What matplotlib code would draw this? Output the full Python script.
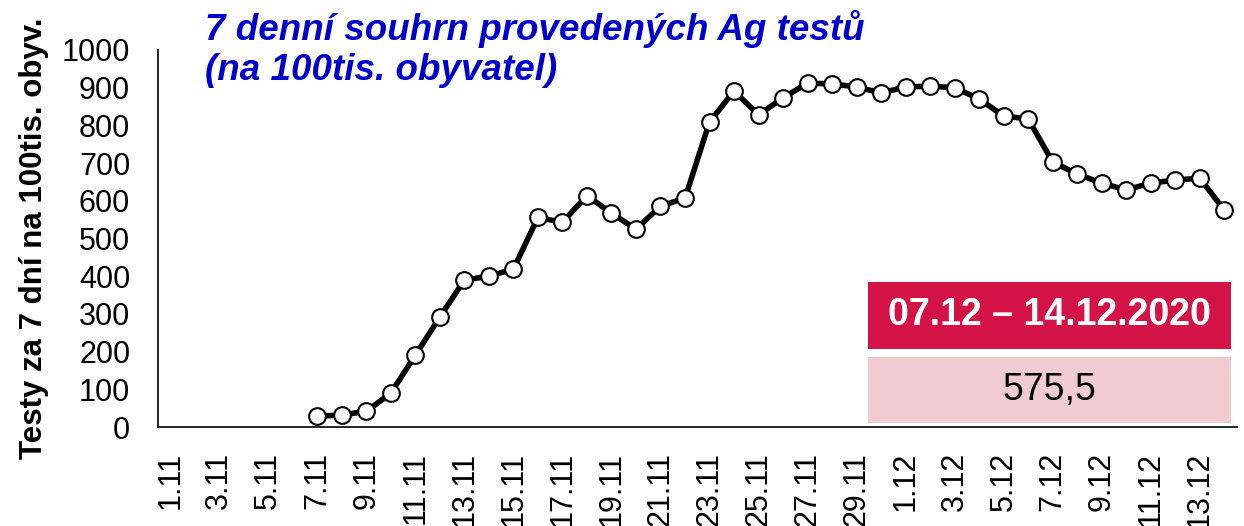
import numpy as np
import matplotlib.pyplot as plt
from matplotlib.patches import Rectangle

plt.rcParams['font.family'] = ['Liberation Sans', 'DejaVu Sans']

# categories: days from 1.11 to 14.12
days = [f"{d}.11" for d in range(1, 31)] + [f"{d}.12" for d in range(1, 15)]

# 7-day sum of Ag tests per 100k inhabitants (no data before 7.11)
tests_7d = [np.nan] * 6 + [
    29, 32, 42, 90, 191, 292, 390, 400, 419, 556,
    543, 614, 567, 525, 586, 607, 809, 891, 828, 873,
    912, 910, 902, 886, 902, 904, 900, 870, 825, 817,
    703, 671, 647, 629, 647, 655, 660, 575.5,
]

period_label = "07.12 – 14.12.2020"
title_text = "7 denní souhrn provedených Ag testů\n(na 100tis. obyvatel)"
ylabel_text = "Testy za 7 dní na 100tis. obyv."

fig = plt.figure(figsize=(12.44, 5.26), dpi=100)
ax = fig.add_axes([0.127, 0.188, 0.867, 0.717])

x = np.arange(len(days))
ax.plot(x, tests_7d, color='black', linewidth=4, marker='o', markersize=12,
        markerfacecolor='white', markeredgecolor='black', markeredgewidth=1.5,
        zorder=3)

ax.set_xlim(-0.5, len(days) - 0.5)
ax.set_ylim(0, 1000)
ax.set_yticks(range(0, 1001, 100))
ax.set_xticks(x[::2])
ax.set_xticklabels(days[::2], rotation=90, fontsize=22)
ax.tick_params(axis='y', length=0, pad=20, labelsize=22)
ax.tick_params(axis='x', length=0, pad=18)

for side in ['top', 'right']:
    ax.spines[side].set_visible(False)
ax.spines['left'].set_linewidth(1.2)
ax.spines['bottom'].set_linewidth(1.2)

ax.set_ylabel(ylabel_text, fontsize=22.5, fontweight='bold', labelpad=9)

fig.text(0.165, 0.907, title_text, color='#0000CC', fontsize=26.5,
         fontweight='bold', fontstyle='italic', va='center', ha='left',
         linespacing=1.18)

# info boxes at bottom right
ax.add_patch(Rectangle((0.658, 0.207), 0.337, 0.178, transform=ax.transAxes,
                       facecolor='#D31245', edgecolor='none', zorder=4))
ax.add_patch(Rectangle((0.658, 0.011), 0.337, 0.175, transform=ax.transAxes,
                       facecolor='#F0CCD0', edgecolor='none', zorder=4))
ax.text(0.8265, 0.296, period_label, transform=ax.transAxes, color='white',
        fontsize=27, fontweight='bold', ha='center', va='center', zorder=5)
last_value = f"{tests_7d[-1]:.1f}".replace('.', ',')
ax.text(0.8265, 0.098, last_value, transform=ax.transAxes, color='black',
        fontsize=27, ha='center', va='center', zorder=5)

fig.savefig('out.png', dpi=100)
